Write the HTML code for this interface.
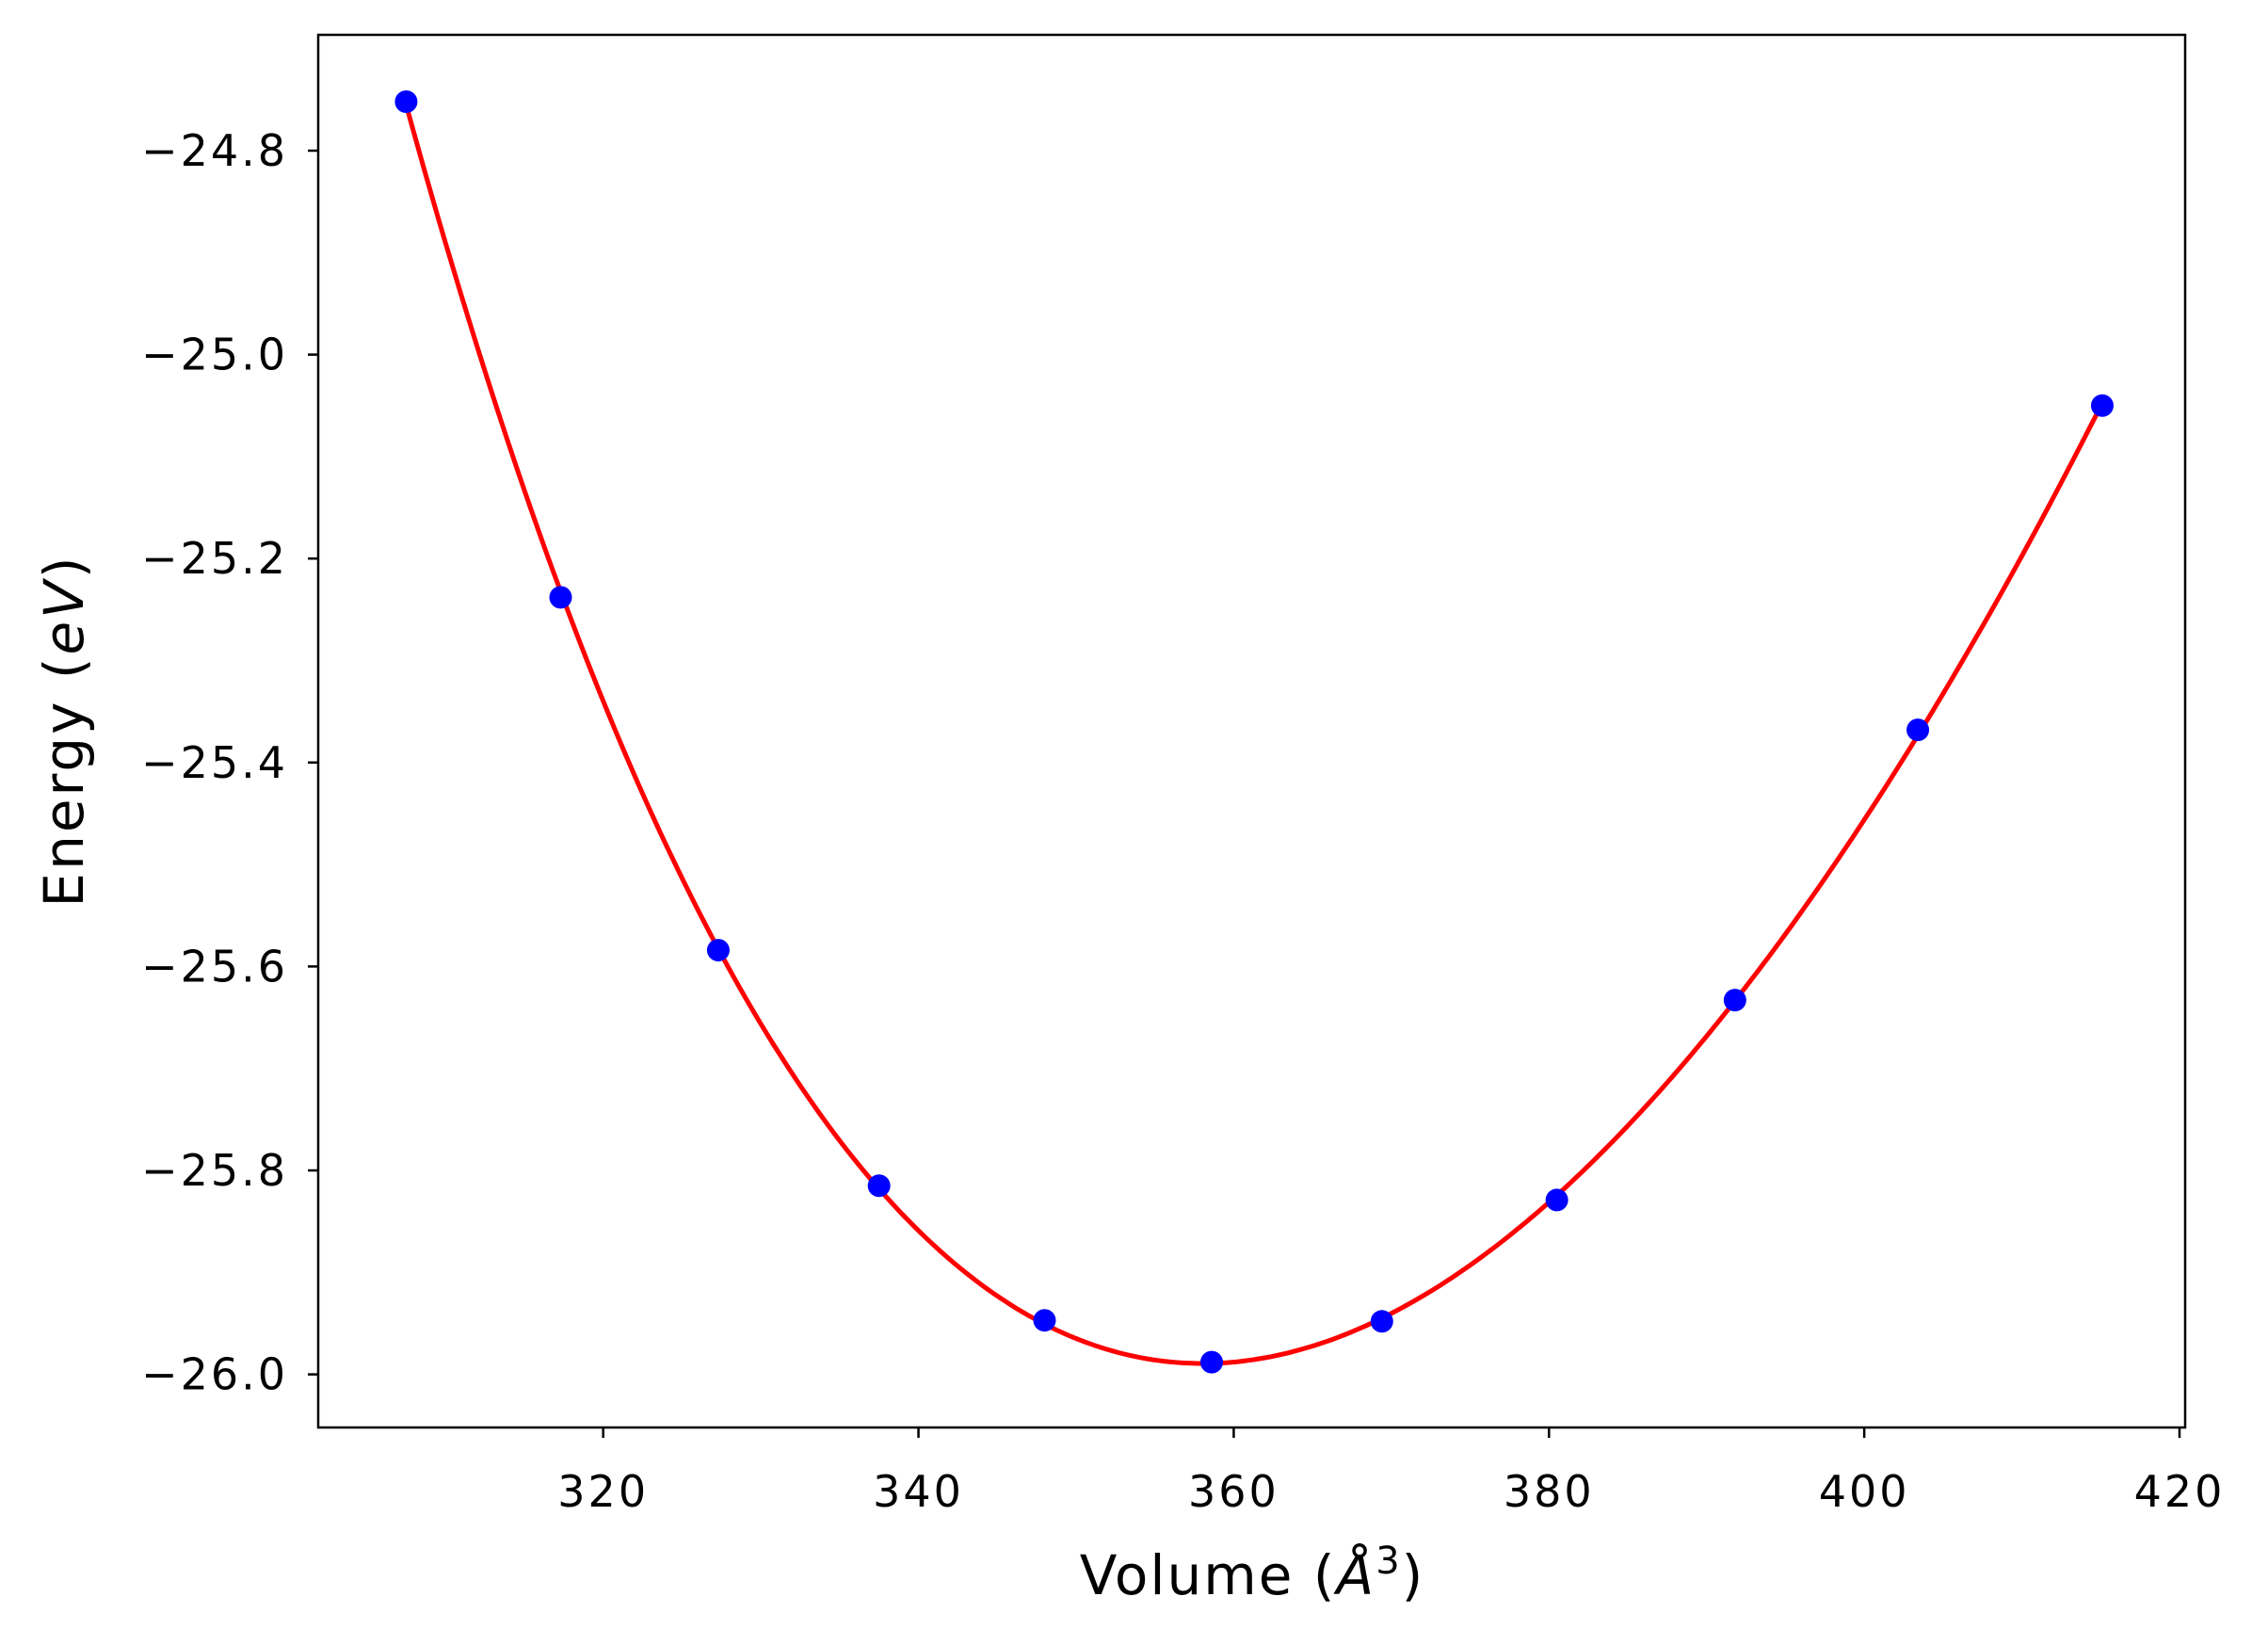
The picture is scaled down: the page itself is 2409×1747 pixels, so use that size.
<!DOCTYPE html>
<html><head><meta charset="utf-8"><style>html,body{margin:0;padding:0;background:#fff}svg{display:block}text{font-family:"DejaVu Sans","Liberation Sans",sans-serif}</style></head>
<body>
<svg id="chart" width="2409" height="1747" viewBox="0 0 2409 1747" xmlns="http://www.w3.org/2000/svg">
<rect width="2409" height="1747" fill="#fff"/>
<g id="plot"></g>
<rect x="338" y="37" width="1983" height="1479" fill="none" stroke="#000" stroke-width="2.5"/>
<text x="1330" y="1693" font-size="58" letter-spacing="2" text-anchor="middle">Volume (<tspan font-style="italic">Å</tspan><tspan font-size="40" dy="-22">3</tspan><tspan dy="22">)</tspan></text>
<text transform="translate(88,776) rotate(-90)" font-size="58" letter-spacing="3" text-anchor="middle">Energy (<tspan font-style="italic">eV</tspan>)</text>
</svg>
<script>
const volumes = [307.5, 317.3, 327.3, 337.5, 348.0, 358.6, 369.4, 380.5, 391.8, 403.4, 415.1];
const energies = [-24.752, -25.238, -25.584, -25.815, -25.947, -25.988, -25.948, -25.829, -25.633, -25.368, -25.05];
const xTicks = [320, 340, 360, 380, 400, 420];
const yTicks = [-24.8, -25.0, -25.2, -25.4, -25.6, -25.8, -26.0];

const ns = 'http://www.w3.org/2000/svg';
const g = document.getElementById('plot');
function X(v){ return 640.7 + (v - 320) * (2315 - 640.7) / 100; }
function Y(e){ return 160 + (e - (-24.8)) * (1459.6 - 160) / (-1.2); }
function mk(tag, attrs){ const el = document.createElementNS(ns, tag); for (const k in attrs) el.setAttribute(k, attrs[k]); g.appendChild(el); return el; }

xTicks.forEach(t => {
  const l = mk('line', {x1: X(t), x2: X(t), y1: 1516, y2: 1527, stroke: '#000', 'stroke-width': 2.5});
  
  
  const tx = mk('text', {x: X(t), y: 1600, 'font-size': 46, 'letter-spacing': 3, 'text-anchor': 'middle'});
  tx.textContent = t;
  
  
});
yTicks.forEach(t => {
  const l = mk('line', {x1: 327, x2: 338, y1: Y(t), y2: Y(t), stroke: '#000', 'stroke-width': 2.5});
  
  
  const tx = mk('text', {x: 306, y: Y(t) + 16, 'font-size': 46, 'letter-spacing': 3, 'text-anchor': 'end'});
  tx.textContent = '\u2212' + Math.abs(t).toFixed(1);
  
  
});

function fit(xs, ys, deg){
  const mx = xs.reduce((a,b)=>a+b)/xs.length, sx = 50;
  const n = deg+1, A = [], b = [];
  for (let i=0;i<n;i++){ A.push(new Array(n).fill(0)); b.push(0); }
  xs.forEach((x,k)=>{ const u=(x-mx)/sx; for(let i=0;i<n;i++){ b[i]+=ys[k]*Math.pow(u,i); for(let j=0;j<n;j++) A[i][j]+=Math.pow(u,i+j);} });
  for (let i=0;i<n;i++){ let p=i; for(let r=i+1;r<n;r++) if(Math.abs(A[r][i])>Math.abs(A[p][i])) p=r;
    [A[i],A[p]]=[A[p],A[i]]; [b[i],b[p]]=[b[p],b[i]];
    for(let r=0;r<n;r++){ if(r===i) continue; const f=A[r][i]/A[i][i]; for(let c=i;c<n;c++) A[r][c]-=f*A[i][c]; b[r]-=f*b[i]; } }
  const c = b.map((v,i)=>v/A[i][i]);
  return x => { const u=(x-mx)/sx; return c.reduce((s,ci,i)=>s+ci*Math.pow(u,i),0); };
}
const f = fit(volumes, energies, 4);
const v0 = volumes[0], v1 = volumes[volumes.length-1];
let d = '';
for (let i=0;i<=300;i++){ const v = v0 + (v1-v0)*i/300; d += (i?'L':'M') + X(v).toFixed(1) + ',' + Y(f(v)).toFixed(1); }
const path = mk('path', {d: d, fill: 'none', stroke: '#ff0000', 'stroke-width': 5});



volumes.forEach((v,i) => {
  const c = mk('circle', {cx: X(v), cy: Y(energies[i]), r: 12, fill: '#0000ff'});
  
  
});
</script>
</body></html>
